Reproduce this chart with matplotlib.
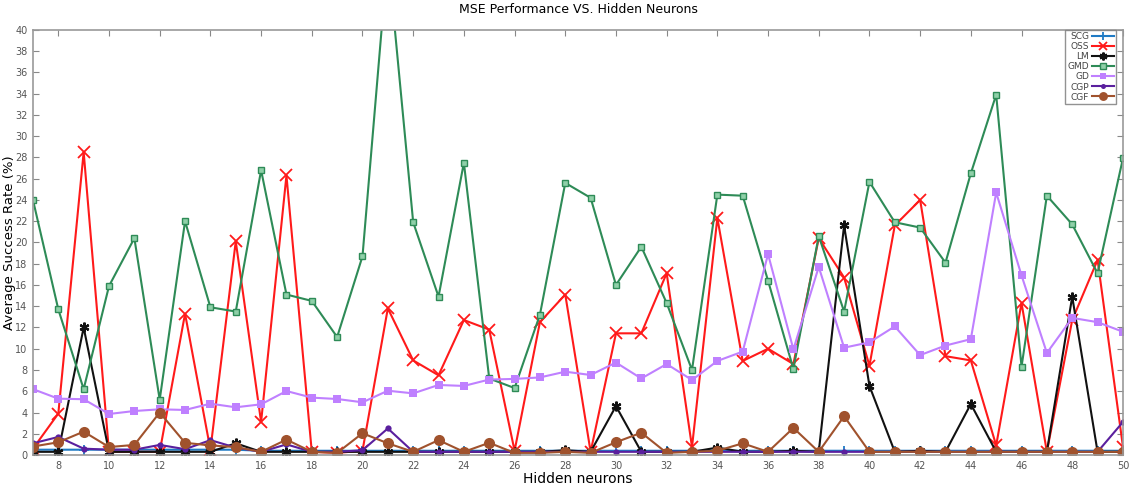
import matplotlib
matplotlib.use("Agg")
import matplotlib.pyplot as plt
import numpy as np

neurons = list(range(7, 51))

scg = [0.5, 0.5, 0.5, 0.5, 0.5, 0.5, 0.5, 0.5, 0.5, 0.4, 0.4, 0.4, 0.4, 0.4, 0.4,
       0.4, 0.4, 0.4, 0.4, 0.4, 0.4, 0.4, 0.4, 0.4, 0.4, 0.4, 0.4, 0.4, 0.4, 0.4,
       0.4, 0.4, 0.4, 0.4, 0.4, 0.4, 0.4, 0.4, 0.4, 0.4, 0.4, 0.4, 0.4, 0.4]
oss = [0.6, 3.9, 28.5, 0.3, 0.3, 0.3, 13.3, 0.5, 20.1, 3.1, 26.3, 0.3, 0.2, 0.4,
       13.8, 8.9, 7.5, 12.7, 11.8, 0.4, 12.5, 15.1, 0.3, 11.45, 11.45, 17.1, 0.75,
       22.3, 8.85, 10.0, 8.56, 20.4, 16.7, 8.4, 21.6, 24.0, 9.3, 8.9, 0.9, 14.3,
       0.3, 12.7, 18.35, 0.8]
lm = [0.3, 0.3, 12.0, 0.3, 0.3, 0.3, 0.3, 0.3, 1.1, 0.3, 0.3, 0.3, 0.3, 0.3,
      0.3, 0.3, 0.3, 0.3, 0.3, 0.3, 0.3, 0.45, 0.3, 4.6, 0.3, 0.3, 0.3,
      0.7, 0.3, 0.3, 0.4, 0.3, 21.6, 6.5, 0.3, 0.4, 0.3, 4.8, 0.3, 0.3,
      0.3, 14.9, 0.3, 0.3]
gmd = [24.0, 13.7, 6.2, 15.9, 20.4, 5.2, 22.0, 13.9, 13.5, 26.8, 15.1, 14.5, 11.1,
       18.7, 47.0, 21.9, 14.9, 27.5, 7.2, 6.3, 13.2, 25.6, 24.2, 16.0, 19.6, 14.3,
       8.0, 24.5, 24.4, 16.4, 8.1, 20.6, 13.5, 25.7, 21.9, 21.4, 18.1, 26.5, 33.9,
       8.3, 24.4, 21.7, 17.1, 27.9]
gd = [6.2, 5.3, 5.25, 3.86, 4.14, 4.3, 4.24, 4.83, 4.49, 4.77, 6.02, 5.4, 5.27,
      4.96, 6.05, 5.8, 6.59, 6.5, 7.1, 7.16, 7.3, 7.84, 7.53, 8.7, 7.2, 8.56, 7.06,
      8.85, 9.73, 18.9, 9.94, 17.7, 10.1, 10.6, 12.1, 9.4, 10.3, 10.9, 24.7, 16.9,
      9.6, 12.9, 12.5, 11.6]
cgp = [1.1, 1.7, 0.6, 0.5, 0.5, 0.95, 0.55, 1.4, 0.7, 0.3, 1.0, 0.3, 0.3, 0.45,
       2.5, 0.3, 0.3, 0.3, 0.3, 0.3, 0.3, 0.3, 0.3, 0.3, 0.3, 0.3, 0.3, 0.3, 0.3,
       0.3, 0.3, 0.3, 0.3, 0.3, 0.3, 0.3, 0.3, 0.3, 0.3, 0.3, 0.3, 0.3, 0.3, 3.1]
cgf = [0.8, 1.2, 2.2, 0.75, 0.95, 4.0, 1.15, 0.9, 0.75, 0.3, 1.45, 0.3, 0.2, 2.05,
       1.1, 0.3, 1.4, 0.3, 1.15, 0.2, 0.2, 0.3, 0.2, 1.2, 2.1, 0.2, 0.3, 0.4, 1.1,
       0.3, 2.55, 0.3, 3.65, 0.3, 0.3, 0.3, 0.3, 0.3, 0.3, 0.3, 0.3, 0.3, 0.3, 0.3]

x_ticks = list(range(8, 51, 2))
y_ticks = list(range(0, 41, 2))

fig = plt.figure(figsize=(11.33, 4.90), dpi=100)
ax = fig.add_axes([0.0291, 0.0714, 0.9620, 0.8676])

styles = [
    ("SCG", scg, dict(color="#1f7ac4", marker="+", ms=7, mew=1.3)),
    ("OSS", oss, dict(color="#ff1a1a", marker="x", ms=8, mew=1.3)),
    ("LM", lm, dict(color="#111111", marker=(6, 2, 0), ms=7, mew=1.6)),
    ("GMD", gmd, dict(color="#2e8b57", marker="s", ms=5, mfc="#8fd0a8", mew=1.0)),
    ("GD", gd, dict(color="#bf80ff", marker="s", ms=5.5, mew=0)),
    ("CGP", cgp, dict(color="#5a1f9e", marker="o", ms=4.5, mew=0)),
    ("CGF", cgf, dict(color="#a0522d", marker="o", ms=8, mew=0)),
]
for name, vals, st in styles:
    ax.plot(neurons, vals, lw=1.5, label=name, clip_on=True, **st)

ax.set_xlim(7, 50)
ax.set_ylim(0, 40)
ax.set_xticks(x_ticks)
ax.set_yticks(y_ticks)
ax.tick_params(direction="in", top=True, right=True, length=4, width=0.8,
               colors="#888888", labelcolor="#555555", labelsize=7, pad=4)
for s in ax.spines.values():
    s.set_color("#999999")
    s.set_linewidth(1.2)

ax.set_title("MSE Performance VS. Hidden Neurons", fontsize=9, pad=12)
ax.set_xlabel("Hidden neurons", fontsize=10, labelpad=1)
ax.set_ylabel("Average Success Rate (%)", fontsize=9.5)
ax.yaxis.set_label_coords(-0.0152, 0.5)

leg = ax.legend(loc="upper right", bbox_to_anchor=(0.9936, 1.0), markerfirst=False,
                fontsize=6.5, frameon=True, fancybox=False, borderpad=0.25,
                labelspacing=0.12, handlelength=2.4, handletextpad=0.3,
                borderaxespad=0.0, markerscale=0.8)
leg.get_frame().set_edgecolor("#777777")
leg.get_frame().set_linewidth(1.0)
for t in leg.get_texts():
    t.set_color("#444444")

fig.savefig("out.png", dpi=100)
